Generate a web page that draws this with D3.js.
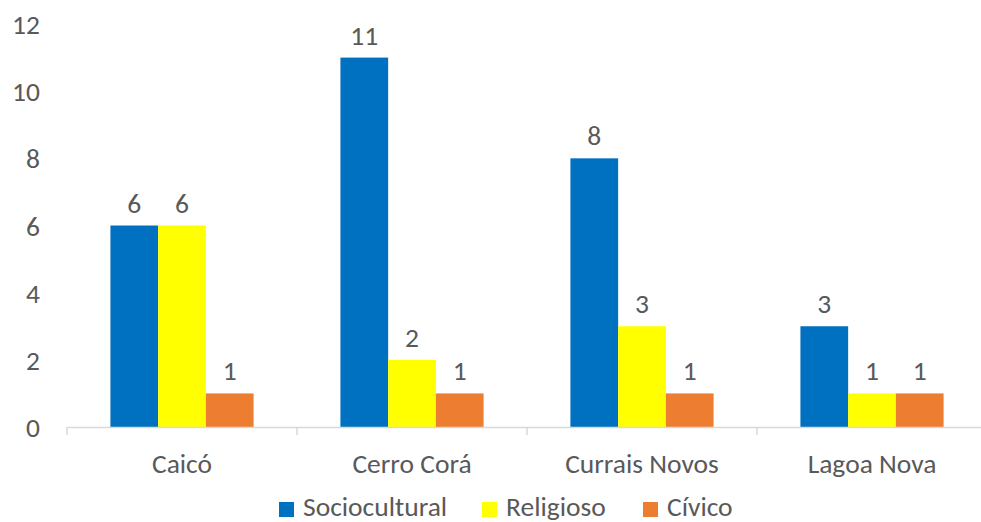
<!DOCTYPE html>
<html><head><meta charset="utf-8">
<script src="https://cdn.jsdelivr.net/npm/d3@7"></script>
<style>body{margin:0;background:#fff}svg{display:block}text{font-family:Carlito,Calibri,Lato,"Open Sans",sans-serif;fill:#595959}</style>
</head><body>
<script>
const categories = ["Caicó", "Cerro Corá", "Currais Novos", "Lagoa Nova"];
const seriesNames = ["Sociocultural", "Religioso", "Cívico"];
const sociocultural = [6, 11, 8, 3];
const religioso = [6, 2, 3, 1];
const civico = [1, 1, 1, 1];
const colors = ["#0070C0", "#FFFF00", "#ED7D31"];
const yTicks = [0, 2, 4, 6, 8, 10, 12];

const W = 981, H = 522;
const FS = 27.5;
const svg = d3.select("body").append("svg").attr("width", W).attr("height", H);
const seriesVals = [sociocultural, religioso, civico];

const x = d3.scaleBand().domain(categories).range([67, 987]).paddingInner(0).paddingOuter(0);
const xs = d3.scaleBand().domain(seriesNames).range([0, x.bandwidth()]).paddingInner(0).paddingOuter(0.91);
const y = d3.scaleLinear().domain([0, 12]).range([427, 24]);

// y axis labels
const ya = svg.append("g").attr("transform", "translate(40,0)")
  .call(d3.axisLeft(y).tickValues(yTicks).tickSize(0).tickPadding(0));
ya.select(".domain").remove();
ya.selectAll("text").attr("font-size", FS).attr("fill", "#595959").attr("font-family", null).attr("dy", "0.35em");

// bars
categories.forEach((c, i) => {
  seriesNames.forEach((s, j) => {
    const v = seriesVals[j][i];
    svg.append("rect").attr("x", x(c) + xs(s)).attr("width", xs.bandwidth())
      .attr("y", y(v)).attr("height", y(0) - y(v)).attr("fill", colors[j]);
    svg.append("text").attr("x", x(c) + xs(s) + xs.bandwidth() / 2).attr("y", y(v) - 13)
      .attr("text-anchor", "middle").attr("font-size", FS).attr("fill", "#404040").text(v);
  });
});

// x axis
const xa = svg.append("g").attr("transform", `translate(0,${y(0)})`)
  .call(d3.axisBottom(x).tickSize(0).tickPadding(0));
xa.select(".domain").attr("stroke", "#d9d9d9").attr("stroke-width", 1.5);
xa.selectAll("text").attr("font-size", FS).attr("fill", "#595959").attr("y", 46).attr("dy", null).attr("font-family", null);
// tick separators
const bounds = categories.map(c => x(c)).concat([x.range()[1]]);
svg.append("g").selectAll("line").data(bounds).join("line")
  .attr("x1", d => d).attr("x2", d => d).attr("y1", y(0)).attr("y2", y(0) + 8)
  .attr("stroke", "#d9d9d9").attr("stroke-width", 1.5);

// legend
const legX = [279, 482, 643];
seriesNames.forEach((s, j) => {
  svg.append("rect").attr("x", legX[j]).attr("y", 502).attr("width", 15).attr("height", 15).attr("fill", colors[j]);
  svg.append("text").attr("x", legX[j] + 24).attr("y", 516).attr("font-size", FS).text(s);
});
</script>
</body></html>
